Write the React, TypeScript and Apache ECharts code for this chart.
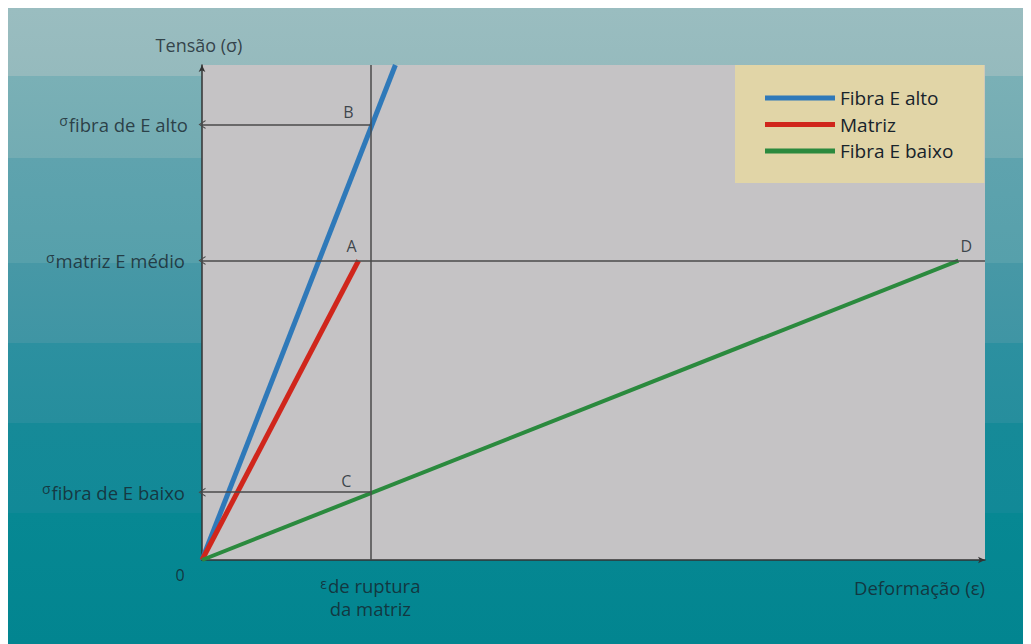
import React, { useEffect, useRef } from "react";
import * as echarts from "echarts";

// ---- data (strain units on x, stress units on y) ----
const seriesNames = ["Fibra E alto", "Matriz", "Fibra E baixo"];
const seriesColors = ["#2f79b9", "#d0261c", "#2b8a3e"];
const fiberHigh: number[][] = [[0, 0], [2.47, 10]];
const matrix: number[][] = [[0, 0], [2.0, 6.05]];
const fiberLow: number[][] = [[0, 0], [9.66, 6.05]];
const epsRupture = 2.15;
const sigmaHigh = 8.8;
const sigmaMatrix = 6.05;
const sigmaLow = 1.37;
const axisMaxX = 10;
const axisMaxY = 10;
const sigmaLabels = ["fibra de E alto", "matriz E médio", "fibra de E baixo"];
const pointLetters = ["B", "A", "C", "D"];
const yAxisTitle = "Tensão (σ)";
const xAxisTitle = "Deformação (ε)";
const epsLabel = ["de ruptura", "da matriz"];

const FONT = "'Open Sans', Lato, sans-serif";
const TXT = "#17232b";

export default function App() {
  const ref = useRef<HTMLDivElement>(null);
  useEffect(() => {
    document.documentElement.style.overflow = "hidden";
    const chart = echarts.init(ref.current!, undefined, { renderer: "svg" });
    const chevron = "path://M0,10 L5,0 L10,10 L8.6,10 L5,2.6 L1.4,10 Z";
    const sigmaRich = {
      s: { fontSize: 14, color: TXT, fontFamily: FONT, padding: [0, 1, 7, 0] },
      t: { fontSize: 18.5, color: TXT, fontFamily: FONT },
    };
    const epsRich = {
      s: { fontSize: 14, color: TXT, fontFamily: FONT, lineHeight: 14, padding: [0, 1, 4, 0] },
      t: { fontSize: 18.5, color: TXT, fontFamily: FONT, lineHeight: 18 },
    };
    const lbl = (value: number[], label: any) => ({ value, label: { show: true, ...label } });
    const option: any = {
      animation: false,
      backgroundColor: "transparent",
      grid: {
        left: 194,
        right: 46,
        top: 57,
        bottom: 84,
        show: true,
        backgroundColor: "#c5c3c5",
        borderWidth: 0,
      },
      legend: {
        data: seriesNames,
        orient: "vertical",
        left: 727,
        top: 57,
        backgroundColor: "#e1d5a7",
        padding: [23, 31, 22, 30],
        itemGap: 6.5,
        itemWidth: 70,
        itemHeight: 5,
        icon: "rect",
        textStyle: { fontSize: 19, lineHeight: 20, color: TXT, fontFamily: FONT },
      },
      xAxis: {
        type: "value",
        min: 0,
        max: axisMaxX,
        axisLine: {
          show: true,
          symbol: ["none", "arrow"],
          symbolSize: [5, 7],
          lineStyle: { color: "#333", width: 1.5 },
        },
        axisTick: { show: false },
        axisLabel: { show: false },
        splitLine: { show: false },
      },
      yAxis: {
        type: "value",
        min: 0,
        max: axisMaxY,
        axisLine: {
          show: true,
          symbol: ["none", "arrow"],
          symbolSize: [5, 7],
          lineStyle: { color: "#333", width: 1.5 },
        },
        axisTick: { show: false },
        axisLabel: { show: false },
        splitLine: { show: false },
      },
      series: [
        {
          name: "guides",
          type: "line",
          data: [],
          z: 1,
          markLine: {
            silent: true,
            animation: false,
            symbol: "none",
            label: { show: false },
            lineStyle: { color: "#4a4a4a", width: 1.5, type: "solid" },
            data: [
              [
                { coord: [0, sigmaHigh], symbol: chevron, symbolSize: [9, 7] },
                { coord: [epsRupture, sigmaHigh], symbol: "none" },
              ],
              [
                { coord: [0, sigmaMatrix], symbol: chevron, symbolSize: [9, 7] },
                { coord: [axisMaxX, sigmaMatrix], symbol: "none" },
              ],
              [
                { coord: [0, sigmaLow], symbol: chevron, symbolSize: [9, 7] },
                { coord: [epsRupture, sigmaLow], symbol: "none" },
              ],
              [
                { coord: [epsRupture, 0], symbol: "none" },
                { coord: [epsRupture, axisMaxY], symbol: "none" },
              ],
            ],
          },
        },
        {
          name: seriesNames[0],
          type: "line",
          data: fiberHigh,
          symbol: "none",
          z: 3,
          color: seriesColors[0],
          lineStyle: { color: seriesColors[0], width: 5 },
        },
        {
          name: seriesNames[1],
          type: "line",
          data: matrix,
          symbol: "none",
          z: 3,
          color: seriesColors[1],
          lineStyle: { color: seriesColors[1], width: 5 },
        },
        {
          name: seriesNames[2],
          type: "line",
          data: fiberLow,
          symbol: "none",
          z: 3,
          color: seriesColors[2],
          lineStyle: { color: seriesColors[2], width: 4 },
        },
        {
          name: "labels",
          type: "scatter",
          symbolSize: 0,
          silent: true,
          z: 4,
          label: { fontFamily: FONT, color: TXT, fontSize: 18.5 },
          data: [
            lbl([0, sigmaHigh], {
              position: "left",
              distance: 14,
              formatter: `{s|σ}{t|${sigmaLabels[0]}}`,
              rich: sigmaRich,
            }),
            lbl([0, sigmaMatrix], {
              position: "left",
              distance: 17,
              formatter: `{s|σ}{t|${sigmaLabels[1]}}`,
              rich: sigmaRich,
            }),
            lbl([0, sigmaLow], {
              position: "left",
              distance: 17,
              formatter: `{s|σ}{t|${sigmaLabels[2]}}`,
              rich: sigmaRich,
            }),
            lbl([0, 0], {
              position: [-22, 15],
              align: "center",
              verticalAlign: "middle",
              formatter: "0",
              fontSize: 16,
            }),
            lbl([0, axisMaxY], {
              position: [-3, -20],
              align: "center",
              verticalAlign: "middle",
              formatter: yAxisTitle,
              fontSize: 18,
            }),
            lbl([axisMaxX, 0], {
              position: [0, 27],
              align: "right",
              verticalAlign: "middle",
              formatter: xAxisTitle,
            }),
            lbl([epsRupture, 0], {
              position: [0, 25],
              align: "center",
              verticalAlign: "middle",
              formatter: `{s|ε}{t|${epsLabel[0]}}`,
              rich: epsRich,
            }),
            lbl([epsRupture, 0], {
              position: [0, 48],
              align: "center",
              verticalAlign: "middle",
              formatter: epsLabel[1],
              lineHeight: 18,
            }),
            lbl([epsRupture, sigmaHigh], {
              position: [-22, -12],
              align: "center",
              verticalAlign: "middle",
              formatter: pointLetters[0],
              fontSize: 16,
            }),
            lbl([matrix[1][0], sigmaMatrix], {
              position: [-7, -15],
              align: "center",
              verticalAlign: "middle",
              formatter: pointLetters[1],
              fontSize: 16,
            }),
            lbl([epsRupture, sigmaLow], {
              position: [-24, -11],
              align: "center",
              verticalAlign: "middle",
              formatter: pointLetters[2],
              fontSize: 16,
            }),
            lbl([fiberLow[1][0], sigmaMatrix], {
              position: [8, -15],
              align: "center",
              verticalAlign: "middle",
              formatter: pointLetters[3],
              fontSize: 16,
            }),
          ],
        },
      ],
    };
    chart.setOption(option);
    return () => chart.dispose();
  }, []);

  const bg =
    "linear-gradient(to bottom, #9abdc0 0px, #95babd 68px, #7ab0b6 68px, #73acb3 150px, #5fa3ae 150px, #56a0ab 255px, #4798a6 255px, #3f95a4 335px, #2c90a0 335px, #268e9d 415px, #168a98 415px, #118997 505px, #078893 505px, #028590 636px)";
  return <div ref={ref} style={{ width: 1023, height: 636, background: bg }} />;
}
